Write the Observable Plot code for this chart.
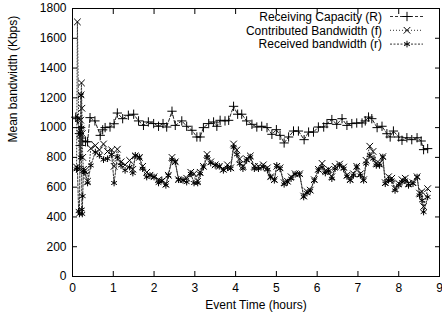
<!DOCTYPE html>
<html><head><meta charset="utf-8">
<script src="https://cdn.jsdelivr.net/npm/d3@7"></script>
<script src="https://cdn.jsdelivr.net/npm/@observablehq/plot@0.6"></script>
<style>body{margin:0;background:#fff}#chart{width:442px;height:321px;overflow:hidden}</style>
</head><body><div id="chart"></div>
<script>
const timeCap = [0.08,0.12,0.17,0.19,0.2,0.22,0.25,0.32,0.37,0.43,0.55,0.68,0.74,0.8,0.92,1.02,1.1,1.23,1.37,1.5,1.62,1.74,1.86,1.99,2.11,2.22,2.31,2.44,2.52,2.68,2.8,2.93,3.05,3.13,3.21,3.34,3.46,3.54,3.62,3.74,3.83,3.95,4.05,4.15,4.27,4.4,4.52,4.64,4.77,4.89,5.0,5.09,5.19,5.3,5.42,5.54,5.68,5.79,5.91,6.03,6.16,6.24,6.36,6.48,6.61,6.73,6.85,6.97,7.1,7.18,7.26,7.34,7.47,7.59,7.71,7.79,7.87,8.0,8.08,8.2,8.32,8.45,8.55,8.61,8.71];
const capacity = [1070,1060,960,880,1000,930,910,905,905,1067,1045,948,985,1000,1004,1026,1098,1060,1083,1090,1045,1015,1038,1027,1009,1027,1004,1110,1015,1045,1009,982,937,937,1000,1027,1038,1009,1049,1045,1049,1143,1090,1090,1045,1022,1004,1009,1000,955,986,948,897,937,977,977,919,970,970,1004,1004,1027,1054,1022,1060,1015,1027,1031,1031,1045,1071,1060,1000,1009,959,937,977,937,915,932,919,932,910,852,859];

const timeBw = [0.1,0.12,0.15,0.17,0.19,0.2,0.21,0.22,0.23,0.24,0.25,0.27,0.3,0.37,0.45,0.56,0.66,0.76,0.86,0.96,1.02,1.1,1.19,1.29,1.4,1.48,1.54,1.64,1.72,1.82,1.9,2.0,2.11,2.19,2.29,2.35,2.44,2.52,2.6,2.71,2.8,2.9,2.98,3.07,3.13,3.21,3.3,3.39,3.5,3.6,3.7,3.8,3.88,3.95,4.03,4.1,4.18,4.27,4.36,4.46,4.56,4.68,4.78,4.86,4.95,5.01,5.09,5.19,5.27,5.36,5.46,5.57,5.67,5.75,5.83,5.93,6.03,6.12,6.2,6.28,6.36,6.44,6.55,6.65,6.73,6.81,6.89,6.97,7.06,7.14,7.2,7.29,7.37,7.45,7.53,7.61,7.67,7.75,7.83,7.91,8.0,8.08,8.16,8.24,8.35,8.45,8.51,8.57,8.61,8.71];
const contributed = [735,1710,1060,720,960,1050,1220,1300,1130,960,800,720,710,640,860,880,850,890,840,850,740,855,770,750,780,720,810,800,740,700,680,670,650,640,620,680,800,770,650,650,660,700,690,640,700,740,820,770,750,740,720,750,730,890,850,790,740,790,810,740,740,750,730,670,650,740,730,630,640,670,690,690,540,570,580,650,720,760,710,720,670,740,755,735,680,650,690,740,690,650,780,875,840,760,760,805,630,670,660,590,625,650,660,625,630,670,560,570,470,590];
const received = [720,730,440,420,960,800,1217,1000,450,420,540,710,700,628,746,836,814,785,791,820,628,802,746,713,735,695,814,802,724,668,679,668,628,646,612,679,785,769,650,646,634,690,628,628,690,735,802,762,746,740,713,731,724,870,820,758,724,780,802,724,724,735,717,668,646,746,724,619,634,657,686,686,534,560,574,646,713,735,695,708,657,724,746,724,672,646,679,735,679,646,758,814,791,746,746,802,623,646,646,578,612,634,646,612,623,668,545,511,433,534];

const xTicks = [0,1,2,3,4,5,6,7,8,9];
const yTicks = [0,200,400,600,800,1000,1200,1400,1600,1800];
const seriesNames = ["Receiving Capacity (R)", "Contributed Bandwidth (f)", "Received bandwidth (r)"];
const xLabel = "Event Time (hours)";
const yLabel = "Mean bandwidth (Kbps)";

const capData = timeCap.map((t, i) => ({t, v: capacity[i]}));
const fData = timeBw.map((t, i) => ({t, v: contributed[i]}));
const rData = timeBw.map((t, i) => ({t, v: received[i]}));

const styles = [
  {dash: "3,2", symbol: "plus"},
  {dash: "1,2", symbol: "times"},
  {dash: "2,1.5", symbol: "asterisk"}
];
const R = 3.1;

const plot = Plot.plot({
  width: 442, height: 321,
  marginLeft: 72, marginRight: 3, marginTop: 8, marginBottom: 45,
  style: {fontFamily: "'Liberation Sans', Arial, sans-serif", fontSize: "12px", color: "#000", background: "#fff"},
  x: {domain: [0, 9]},
  y: {domain: [0, 1800]},
  marks: [
    Plot.line(capData, {x: "t", y: "v", stroke: "#222", strokeWidth: 1, strokeDasharray: styles[0].dash}),
    Plot.dot(capData, {x: "t", y: "v", symbol: styles[0].symbol, stroke: "#000", fill: "none", r: R, strokeWidth: 1}),
    Plot.line(fData, {x: "t", y: "v", stroke: "#333", strokeWidth: 1, strokeDasharray: styles[1].dash}),
    Plot.dot(fData, {x: "t", y: "v", symbol: styles[1].symbol, stroke: "#000", fill: "none", r: R, strokeWidth: 1}),
    Plot.line(rData, {x: "t", y: "v", stroke: "#333", strokeWidth: 1, strokeDasharray: styles[2].dash}),
    Plot.dot(rData, {x: "t", y: "v", symbol: styles[2].symbol, stroke: "#000", fill: "none", r: R, strokeWidth: 1}),
    Plot.frame({stroke: "#000", strokeWidth: 1}),
    Plot.axisX(xTicks, {anchor: "bottom", tickSize: 5, dy: -5, text: null, label: null}),
    Plot.axisX(xTicks, {anchor: "top", tickSize: 5, dy: 5, text: null, label: null}),
    Plot.axisX(xTicks, {anchor: "bottom", tickSize: 0, tickPadding: 7, tickFormat: d => String(d), label: null, fontSize: 12}),
    Plot.axisY(yTicks, {anchor: "left", tickSize: 5, dx: 5, text: null, label: null}),
    Plot.axisY(yTicks, {anchor: "right", tickSize: 5, dx: -5, text: null, label: null}),
    Plot.axisY(yTicks, {anchor: "left", tickSize: 0, tickPadding: 6, tickFormat: d => String(d), label: null, fontSize: 12}),
    Plot.text([xLabel], {frameAnchor: "bottom", dy: 32, fontSize: 12, fill: "#000"}),
    Plot.text([yLabel], {frameAnchor: "left", dx: -59, rotate: -90, fontSize: 12, fill: "#000"})
  ]
});

// legend (top-right, inside the frame, gnuplot style)
const svg = d3.select(plot);
const lg = svg.append("g").attr("font-family", "'Liberation Sans', Arial, sans-serif").attr("font-size", 12);
seriesNames.forEach((name, i) => {
  const y = 16.5 + i * 13.8;
  lg.append("text").attr("x", 382).attr("y", y).attr("dy", "0.35em").attr("text-anchor", "end").attr("fill", "#000").text(name);
  lg.append("line").attr("x1", 390).attr("x2", 423).attr("y1", y).attr("y2", y)
    .attr("stroke", "#333").attr("stroke-width", 1).attr("stroke-dasharray", styles[i].dash);
  const sym = {plus: d3.symbolPlus, times: d3.symbolTimes, asterisk: d3.symbolAsterisk}[styles[i].symbol];
  lg.append("path").attr("d", d3.symbol(sym, Math.PI * R * R)()).attr("transform", `translate(407,${y})`)
    .attr("fill", "none").attr("stroke", "#000").attr("stroke-width", 1);
});

document.getElementById("chart").appendChild(plot);
</script>
</body></html>
